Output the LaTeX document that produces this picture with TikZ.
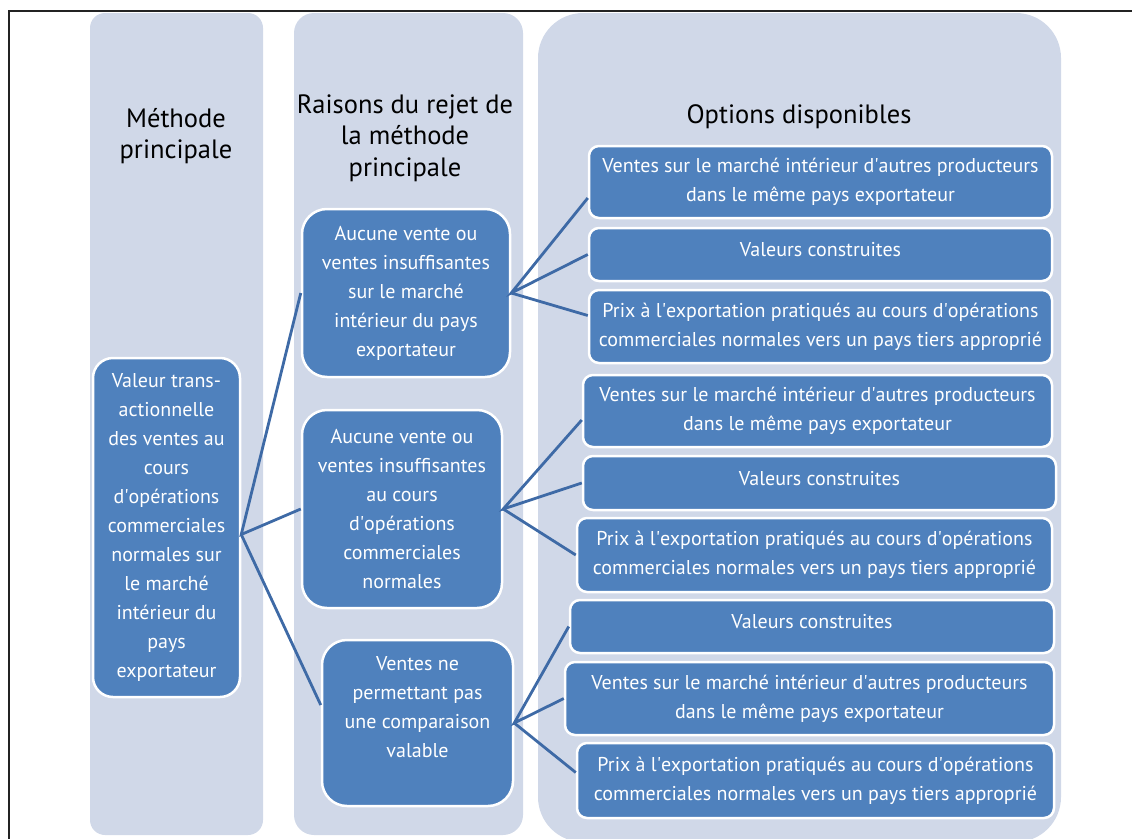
\documentclass[tikz,border=0pt]{standalone}
\usepackage{fontspec}
\setmainfont{PT Sans}
\usepackage{tikz}
\usetikzlibrary{positioning,calc}
\definecolor{colbg}{RGB}{208,216,232}
\definecolor{boxblue}{RGB}{79,129,189}
\definecolor{linkblue}{RGB}{62,106,166}
\definecolor{framegray}{RGB}{35,35,35}
\newcommand{\ap}{\textquotesingle}
\tikzset{
  col/.style={fill=colbg,draw=none},
  hd/.style={align=center,text=black,font=\fontsize{26.5}{31.5}\selectfont},
  bx/.style={rectangle,rounded corners=20pt,draw=white,line width=2.5pt,
             fill=boxblue,text=white,align=center,inner sep=0pt,
             font=\fontsize{20}{29}\selectfont},
  bxO/.style={bx,rounded corners=10pt},
  one/.style={text depth=10pt},
  ln/.style={linkblue,line width=2.8pt},
}

\begin{document}
\begin{tikzpicture}[x=1pt,y=-1pt]
    \useasboundingbox (0,0) rectangle (1132,838);
    % columns
    \fill[col,rounded corners=15pt] (90,13) rectangle (263,835);
    \fill[col,rounded corners=20pt] (294,13) rectangle (523,835);
    \fill[col,rounded corners=45pt] (538,13) rectangle (1061,842);
    \draw[framegray,line width=2pt] (9,840) -- (9,11) -- (1134,11);
    % headings
    \node[hd] (h1) at (176,136) {Méthode\\principale};
    \node[hd] (h2) at (405,138) {Raisons du rejet de\\la méthode\\principale};
    \node[hd] (h3) at (799,117) {Options disponibles};
    % main method
    \node[bx,minimum width=147pt,minimum height=339pt] (main) at (166.5,527.5)
      {Valeur trans-\\actionnelle\\des ventes au\\cours\\d\ap opérations\\commerciales\\normales sur\\le marché\\intérieur du\\pays\\exportateur};
    % reasons
    \node[bx,rounded corners=25pt,minimum width=208pt,minimum height=168pt] (r1) at (406,293)
      {Aucune vente ou\\ventes insuffisantes\\sur le marché\\intérieur du pays\\exportateur};
    \node[bx,rounded corners=25pt,minimum width=200pt,minimum height=198pt] (r2) at (402,509)
      {Aucune vente ou\\ventes insuffisantes\\au cours\\d\ap opérations\\commerciales\\normales};
    \node[bx,rounded corners=25pt,text depth=33pt,minimum width=191pt,minimum height=166pt] (r3) at (417.5,723)
      {Ventes ne\\permettant pas\\une comparaison\\valable};
    % options
    \node[bxO,minimum width=463pt,minimum height=72pt] (o1a) at (820.5,182)
      {Ventes sur le marché intérieur d\ap autres producteurs\\dans le même pays exportateur};
    \node[bxO,one,minimum width=463pt,minimum height=53pt] (o1b) at (820.5,254.5)
      {Valeurs construites};
    \node[bxO,minimum width=463pt,minimum height=73pt] (o1c) at (820.5,326.5)
      {Prix à l\ap exportation pratiqués au cours d\ap opérations\\commerciales normales vers un pays tiers approprié};
    \node[bxO,minimum width=469pt,minimum height=72pt] (o2a) at (817.5,411)
      {Ventes sur le marché intérieur d\ap autres producteurs\\dans le même pays exportateur};
    \node[bxO,one,minimum width=473pt,minimum height=54pt] (o2b) at (819.5,483)
      {Valeurs construites};
    \node[bxO,minimum width=475pt,minimum height=74pt] (o2c) at (814.5,555)
      {Prix à l\ap exportation pratiqués au cours d\ap opérations\\commerciales normales vers un pays tiers approprié};
    \node[bxO,one,minimum width=484pt,minimum height=53pt] (o3a) at (812,626.5)
      {Valeurs construites};
    \node[bxO,minimum width=489pt,minimum height=73pt] (o3b) at (809.5,698.5)
      {Ventes sur le marché intérieur d\ap autres producteurs\\dans le même pays exportateur};
    \node[bxO,minimum width=477pt,minimum height=75pt] (o3c) at (815.5,780.5)
      {Prix à l\ap exportation pratiqués au cours d\ap opérations\\commerciales normales vers un pays tiers approprié};
    % links
    \draw[ln] (r1.west) -- ([yshift=-7pt]main.east) -- (r2.west);
    \draw[ln] ([yshift=-7pt]main.east) -- ([yshift=18pt]r3.west);
    \draw[ln] ([yshift=-16pt]o1a.west) -- (r1.east) -- (o1b.west);
    \draw[ln] (r1.east) -- ([yshift=11pt]o1c.west);
    \draw[ln] ([yshift=-9pt]o2a.west) -- (r2.east) -- (o2b.west);
    \draw[ln] (r2.east) -- (o2c.west);
    \draw[ln] (o3a.west) -- (r3.east) -- (o3b.west);
    \draw[ln] (r3.east) -- ([yshift=8pt]o3c.west);
\end{tikzpicture}
\end{document}
